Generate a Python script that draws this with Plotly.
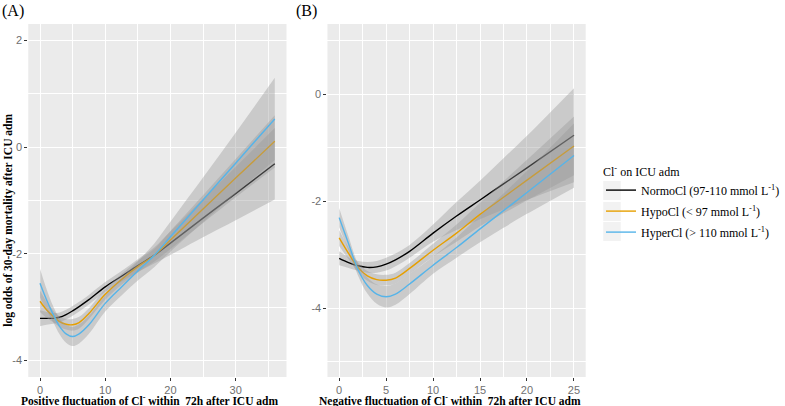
import plotly.graph_objects as go

# ---------------- data ----------------
group_names = ["NormoCl (97-110 mmol L<sup>-1</sup>)",
               "HypoCl (&lt; 97 mmol L<sup>-1</sup>)",
               "HyperCl (&gt; 110 mmol L<sup>-1</sup>)"]
group_colors = ["#000000", "#E69F00", "#56B4E9"]

# Panel A: positive fluctuation of Cl- within 72h
A_x = [0, 1, 2, 3, 4, 5, 6, 7.5, 10, 12.5, 15, 17.5, 20, 25, 30, 36]
A_normo_fit = [-3.21, -3.21, -3.21, -3.19, -3.14, -3.07, -2.99, -2.86, -2.62, -2.42, -2.22, -2.03, -1.80, -1.33, -0.87, -0.31]
A_normo_hw = [0.15, 0.12, 0.10, 0.09, 0.09, 0.09, 0.09, 0.09, 0.09, 0.10, 0.12, 0.15, 0.22, 0.36, 0.50, 0.67]
A_hypo_fit = [-2.89, -3.05, -3.17, -3.27, -3.32, -3.33, -3.29, -3.12, -2.76, -2.48, -2.24, -2.03, -1.74, -1.16, -0.58, 0.11]
A_hypo_hw = [0.20, 0.15, 0.11, 0.10, 0.10, 0.11, 0.11, 0.10, 0.10, 0.10, 0.11, 0.12, 0.17, 0.26, 0.36, 0.49]
A_hyper_fit = [-2.55, -2.86, -3.13, -3.36, -3.50, -3.55, -3.50, -3.33, -2.93, -2.62, -2.32, -2.03, -1.68, -0.99, -0.30, 0.53]
A_hyper_hw = [0.27, 0.20, 0.15, 0.15, 0.17, 0.18, 0.18, 0.17, 0.15, 0.16, 0.18, 0.22, 0.28, 0.42, 0.57, 0.77]

# Panel B: negative fluctuation of Cl- within 72h
B_x = [0, 1, 2, 3, 4, 5, 6, 7.5, 10, 12.5, 15, 17.5, 20, 25]
B_normo_fit = [-3.07, -3.15, -3.21, -3.24, -3.23, -3.18, -3.10, -2.94, -2.60, -2.28, -1.98, -1.68, -1.38, -0.77]
B_normo_hw = [0.13, 0.10, 0.09, 0.10, 0.11, 0.12, 0.12, 0.12, 0.16, 0.26, 0.36, 0.48, 0.60, 0.88]
B_hypo_fit = [-2.69, -2.98, -3.24, -3.40, -3.47, -3.48, -3.44, -3.26, -2.92, -2.60, -2.25, -1.93, -1.61, -0.97]
B_hypo_hw = [0.15, 0.11, 0.09, 0.09, 0.10, 0.10, 0.10, 0.10, 0.12, 0.16, 0.22, 0.30, 0.38, 0.55]
B_hyper_fit = [-2.31, -2.80, -3.28, -3.58, -3.74, -3.79, -3.74, -3.55, -3.20, -2.87, -2.52, -2.18, -1.84, -1.15]
B_hyper_hw = [0.18, 0.13, 0.11, 0.15, 0.18, 0.20, 0.20, 0.19, 0.16, 0.19, 0.25, 0.32, 0.40, 0.60]

A_xticks = [0, 10, 20, 30]
A_yticks = [-4, -2, 0, 2]
B_xticks = [0, 5, 10, 15, 20, 25]
B_yticks = [-4, -2, 0]

# ---------------- figure ----------------
W, H = 785, 406
fig = go.Figure()

RIBBON = "rgba(153,153,153,0.4)"


def add_panel(xs, fits, hws, xaxis, yaxis, show_legend):
    for i, (fit, hw) in enumerate(zip(fits, hws)):
        upper = [f + h for f, h in zip(fit, hw)]
        lower = [f - h for f, h in zip(fit, hw)]
        fig.add_trace(go.Scatter(
            x=xs, y=lower, mode="lines",
            line=dict(width=0, shape="spline", smoothing=1.0),
            hoverinfo="skip", showlegend=False, xaxis=xaxis, yaxis=yaxis))
        fig.add_trace(go.Scatter(
            x=xs, y=upper, mode="lines", fill="tonexty", fillcolor=RIBBON,
            line=dict(width=0, shape="spline", smoothing=1.0),
            hoverinfo="skip", showlegend=False, xaxis=xaxis, yaxis=yaxis))
        fig.add_trace(go.Scatter(
            x=xs, y=fit, mode="lines",
            line=dict(color=group_colors[i], width=1.4, shape="spline", smoothing=1.0),
            name=group_names[i], legendgroup=f"g{i}", showlegend=show_legend,
            xaxis=xaxis, yaxis=yaxis))


add_panel(A_x, [A_normo_fit, A_hypo_fit, A_hyper_fit],
          [A_normo_hw, A_hypo_hw, A_hyper_hw], "x", "y", True)
add_panel(B_x, [B_normo_fit, B_hypo_fit, B_hyper_fit],
          [B_normo_hw, B_hypo_hw, B_hyper_hw], "x2", "y2", False)


def px_x(p):
    return p / W


def px_y(p):
    return 1 - p / H


tickfont = dict(family="Liberation Sans, Arial, sans-serif", size=11, color="#707070")
common_axis = dict(showgrid=True, gridcolor="white", gridwidth=1.1, zeroline=False,
                   showline=False, ticks="outside", ticklen=3, tickwidth=1,
                   tickcolor="#333333", tickfont=tickfont)

y_dom = [px_y(377), px_y(24)]
fig.update_layout(
    width=W, height=H,
    margin=dict(l=0, r=0, t=0, b=0),
    paper_bgcolor="white", plot_bgcolor="#EBEBEB",
    xaxis=dict(domain=[px_x(29), px_x(294)], range=[-1.8, 37.8], anchor="y",
               tickvals=A_xticks, ticktext=[str(v) for v in A_xticks],
               minor=dict(dtick=5, tick0=0, showgrid=True, gridcolor="white",
                          gridwidth=0.5, ticks=""),
               **common_axis),
    yaxis=dict(domain=y_dom, range=[-4.31, 2.31], anchor="x",
               tickvals=A_yticks, ticktext=[str(v) for v in A_yticks],
               minor=dict(dtick=1, tick0=0, showgrid=True, gridcolor="white",
                          gridwidth=0.5, ticks=""),
               **common_axis),
    xaxis2=dict(domain=[px_x(336), px_x(601)], range=[-1.25, 26.25], anchor="y2",
                tickvals=B_xticks, ticktext=[str(v) for v in B_xticks],
                minor=dict(dtick=2.5, tick0=0, showgrid=True, gridcolor="white",
                           gridwidth=0.5, ticks=""),
                **common_axis),
    yaxis2=dict(domain=y_dom, range=[-5.29, 1.31], anchor="x2",
                tickvals=B_yticks, ticktext=[str(v) for v in B_yticks],
                minor=dict(dtick=1, tick0=0, showgrid=True, gridcolor="white",
                           gridwidth=0.5, ticks=""),
                **common_axis),
    legend=dict(
        x=px_x(617), y=px_y(160), xanchor="left", yanchor="top",
        bgcolor="rgba(0,0,0,0)",
        font=dict(family="Liberation Serif, Times New Roman, serif", size=12, color="#000000"),
        title=dict(text="Cl<sup>-</sup> on ICU adm",
                   font=dict(family="Liberation Serif, Times New Roman, serif", size=12)),
        tracegroupgap=2, itemwidth=30),
    showlegend=True,
)

# light grey legend-key backgrounds (ggplot style)
key_tops = [181, 202, 222]
fig.update_layout(shapes=[
    dict(type="rect", xref="paper", yref="paper", layer="below",
         x0=px_x(619), x1=px_x(637), y0=px_y(t + 19), y1=px_y(t),
         fillcolor="#F2F2F2", line=dict(width=0))
    for t in key_tops])

serif_b = dict(family="Liberation Serif, Times New Roman, serif", size=11.5, color="#000000")
ann = [
    dict(text="(A)", x=px_x(0), y=px_y(11), xanchor="left", yanchor="middle",
         font=dict(family="Liberation Serif, Times New Roman, serif", size=16, color="#000")),
    dict(text="(B)", x=px_x(302), y=px_y(11), xanchor="left", yanchor="middle",
         font=dict(family="Liberation Serif, Times New Roman, serif", size=16, color="#000")),
    dict(text="<b>log odds of 30-day mortality after ICU adm</b>", textangle=-90,
         x=px_x(8), y=px_y(220), xanchor="center", yanchor="middle", font=serif_b),
    dict(text="<b>Positive fluctuation of Cl<sup>-</sup> within \u00a072h after ICU adm</b>",
         x=px_x(153), y=px_y(400), xanchor="center", yanchor="middle", font=serif_b),
    dict(text="<b>Negative fluctuation of Cl<sup>-</sup> within \u00a072h after ICU adm</b>",
         x=px_x(462), y=px_y(400), xanchor="center", yanchor="middle", font=serif_b),
]
for a in ann:
    a.update(xref="paper", yref="paper", showarrow=False)
fig.update_layout(annotations=ann)

fig.write_html("out.html", config={"displayModeBar": False},
               post_script="document.body.style.margin='0';document.body.style.padding='0';")
